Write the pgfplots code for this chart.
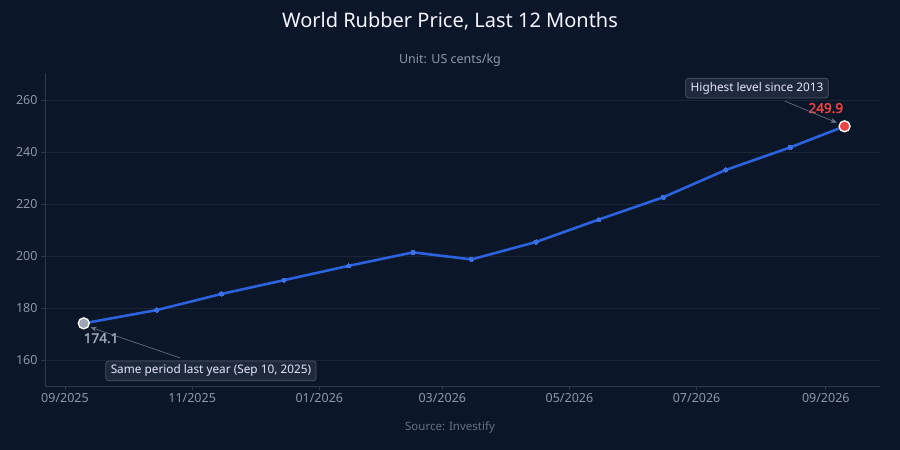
\documentclass[border=0pt]{standalone}
\usepackage{pgfplots}
\pgfplotsset{compat=1.18}
\usepackage{fontspec}
\setmainfont{Noto Sans}
\newfontfamily\boldlab{Noto Sans}[FakeBold=2.2]
\usetikzlibrary{arrows.meta}

\definecolor{bg}{HTML}{0B1628}
\definecolor{gridc}{HTML}{1A2638}
\definecolor{spine}{HTML}{2C394C}
\definecolor{tickc}{HTML}{8C99AB}
\definecolor{linec}{HTML}{2C62DE}
\definecolor{markc}{HTML}{3A6FE6}
\definecolor{redc}{HTML}{EF4444}
\definecolor{greyc}{HTML}{9CA6B4}
\definecolor{boxfill}{HTML}{1E2A3B}
\definecolor{boxdraw}{HTML}{4A5668}

% days since 1 Sep 2025
\pgfplotstableread{
day price
9   174.1
44  179.2
75  185.4
105 190.7
136 196.2
167 201.4
195 198.7
226 205.4
256 214.0
287 222.6
317 233.1
348 241.8
374 249.9
}\rubber

\begin{document}
\begin{tikzpicture}[x=1pt,y=1pt]
\fill[bg] (0,0) rectangle (900,450);

\node[text=white!96!blue, font=\fontsize{20}{24}\selectfont] at (450,429) {World Rubber Price, Last 12 Months};
\node[text=tickc, font=\fontsize{12.5}{15}\selectfont] at (450,390) {Unit: US cents/kg};
\node[text=tickc!70!bg, font=\fontsize{11.5}{14}\selectfont] at (450,23) {Source: Investify};

\begin{axis}[
    at={(45pt,64pt)}, anchor=south west,
    scale only axis,
    width=835pt, height=313pt,
    xmin=-9.6, xmax=391,
    ymin=150, ymax=270.4,
    axis lines*=left,
    axis line style={spine, line width=0.8pt},
    every tick/.style={spine, line width=0.8pt},
    major tick length=4pt,
    tick align=outside,
    xtick={0,61,122,181,242,303,365},
    xticklabels={09/2025,11/2025,01/2026,03/2026,05/2026,07/2026,09/2026},
    ytick={160,180,...,260},
    ymajorgrids,
    grid style={gridc, line width=0.7pt},
    tick label style={text=tickc, font=\fontsize{12.5}{14}\selectfont},
    /pgf/number format/assume math mode=true,
    clip=false,
]
\addplot[linec, line width=2.6pt, mark=*, mark size=2.1pt,
    mark options={fill=markc, draw=markc, line width=0pt}] table[x=day, y=price] {\rubber};
\addplot[only marks, mark=*, mark size=5.5pt,
    mark options={fill=greyc, draw=white, line width=1.3pt}] coordinates {(9,174.1)};
\addplot[only marks, mark=*, mark size=5.5pt,
    mark options={fill=redc, draw=white, line width=1.3pt}] coordinates {(374,249.9)};

\node[text=greyc, font=\boldlab\fontsize{13.5}{15}\selectfont] at (axis cs:17.3,168.4) {174.1};
\node[text=redc, font=\boldlab\fontsize{13.5}{15}\selectfont] at (axis cs:365,256.9) {249.9};

\draw[boxdraw!80!white, line width=0.6pt, -{Stealth[length=6pt,width=5pt]}]
    (axis cs:55.2,160.8) -- (axis cs:12.3,172.6);
\draw[boxdraw!80!white, line width=0.6pt, -{Stealth[length=6pt,width=5pt]}]
    (axis cs:345.3,259.6) -- (axis cs:370.2,251.3);

\node[fill=boxfill, draw=boxdraw, rounded corners=3pt, line width=0.7pt,
    text=white!90!blue, font=\fontsize{11.8}{14}\selectfont,
    inner xsep=5pt, inner ysep=4pt] at (axis cs:70,155.8)
    {Same period last year (Sep 10, 2025)};
\node[fill=boxfill, draw=boxdraw, rounded corners=3pt, line width=0.7pt,
    text=white!90!blue, font=\fontsize{11.8}{14}\selectfont,
    inner xsep=5pt, inner ysep=4pt] at (axis cs:332,264.6)
    {Highest level since 2013};
\end{axis}
\end{tikzpicture}
\end{document}
